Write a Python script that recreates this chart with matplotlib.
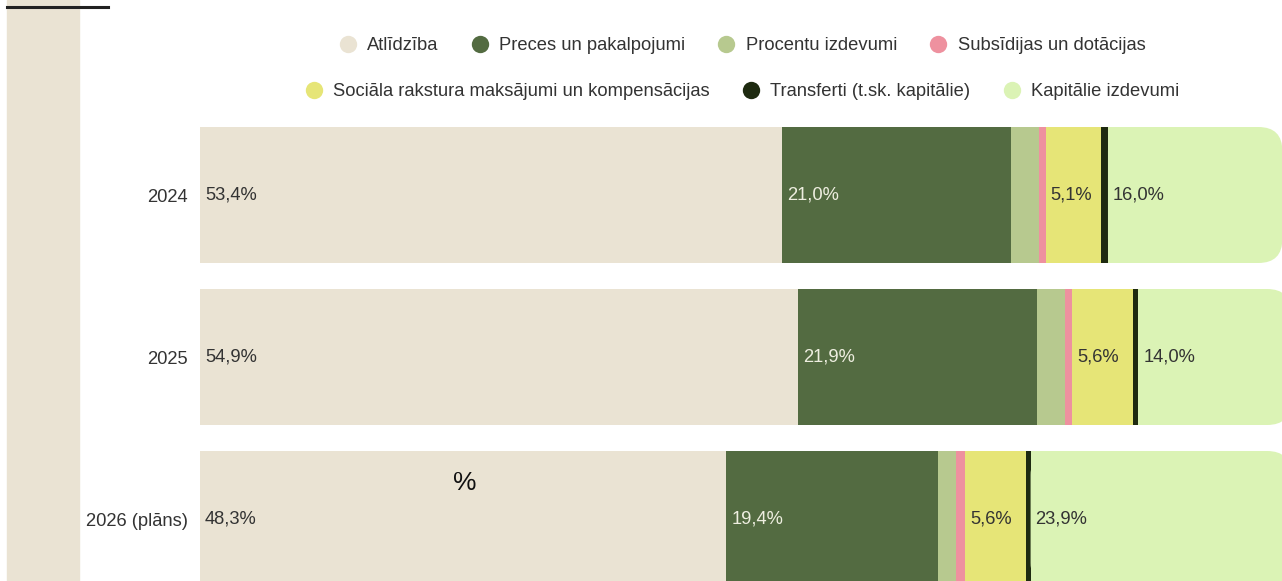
import matplotlib.pyplot as plt
from matplotlib.patches import Rectangle, FancyBboxPatch
from matplotlib.lines import Line2D

plt.rcParams['font.family'] = ['Liberation Sans', 'DejaVu Sans']

years = ['2024', '2025', '2026 (plāns)']
names = ['Atlīdzība', 'Preces un pakalpojumi', 'Procentu izdevumi',
         'Subsīdijas un dotācijas', 'Sociāla rakstura maksājumi un kompensācijas',
         'Transferti (t.sk. kapitālie)', 'Kapitālie izdevumi']
atlidziba = [53.4, 54.9, 48.3]
preces = [21.0, 21.9, 19.4]
procenti = [2.6, 2.6, 1.7]
subsidijas = [0.6, 0.6, 0.8]
sociala = [5.1, 5.6, 5.6]
transferti = [0.6, 0.5, 0.4]
kapitalie = [16.0, 14.0, 23.9]
colors = ['#EAE3D3', '#536B41', '#B7C98F', '#EE919F', '#E6E577', '#1E2A10', '#DBF3B5']
text_colors = ['#333333', '#EEEEE0', '#333333', '#333333', '#333333', '#EEEEEE', '#333333']

series = [atlidziba, preces, procenti, subsidijas, sociala, transferti, kapitalie]

W, H = 1282, 581
fs = 13.2
fig = plt.figure(figsize=(W / 100, H / 100), dpi=100)

# page strip on the left and the short rule on top
fig.patches.append(Rectangle((7 / W, 0), 72 / W, 1, transform=fig.transFigure,
                             color='#EAE3D3', zorder=0))
fig.lines.append(Line2D([7 / W, 108 / W], [1 - 7 / H, 1 - 7 / H], transform=fig.transFigure,
                        color='#222222', lw=2.2))

ax = fig.add_axes([200 / W, 0, 1090 / W, 1])
ax.set_xlim(0, 100)
ax.set_ylim((H - 195) / 162, -195 / 162)
h = 136 / 162
rx = 2.2
ry = 24 / 162

for i, year in enumerate(years):
    left = 0
    for k, vals in enumerate(series):
        v = vals[i]
        if k == len(series) - 1:
            ax.add_patch(FancyBboxPatch((left, i - h / 2), v, h,
                                        boxstyle=f'round,pad=0,rounding_size={rx}',
                                        mutation_aspect=ry / rx, fc=colors[k], ec='none'))
            ax.add_patch(Rectangle((left, i - h / 2), v - rx * 1.5, h, fc=colors[k], ec='none'))
        else:
            ax.barh(i, v, left=left, height=h, color=colors[k], linewidth=0)
        if v >= 5:
            ax.annotate(f'{v:.1f}%'.replace('.', ','), (left, i), xytext=(3.5, 0),
                        textcoords='offset points', va='center', ha='left',
                        fontsize=fs, color=text_colors[k])
        left += v

ax.set_yticks(range(len(years)))
ax.set_yticklabels(years, fontsize=fs, color='#333333')
ax.tick_params(axis='y', length=0, pad=9)
ax.set_xticks([])
for s in ax.spines.values():
    s.set_visible(False)

ax.text(465 / W, 1 - 483 / H, '%', transform=fig.transFigure, fontsize=19,
        ha='center', va='center', color='#111111')

def handles(idx):
    return [Line2D([], [], marker='o', ls='none', markersize=12.5,
                   markerfacecolor=colors[j], markeredgecolor='none', label=names[j])
            for j in idx]

for idx, yc in [([0, 1, 2, 3], 46), ([4, 5, 6], 92)]:
    fig.legend(handles=handles(idx), loc='center', bbox_to_anchor=(742 / W, 1 - yc / H),
               ncol=len(idx), frameon=False, fontsize=fs, handlelength=1.0,
               handletextpad=0.55, columnspacing=1.75, labelcolor='#333333')

fig.savefig('out.png', dpi=100)
